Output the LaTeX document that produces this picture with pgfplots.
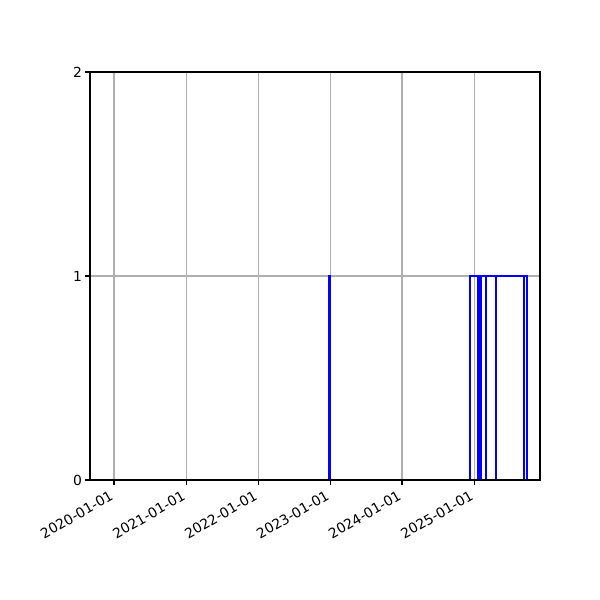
\documentclass[border=0pt]{standalone}
\usepackage{fontspec}
\setmainfont{DejaVu Sans}
\usepackage{pgfplots}
\pgfplotsset{compat=1.18}
\definecolor{mplgrid}{HTML}{B0B0B0}
\definecolor{mplblue}{HTML}{0000FF}

\begin{document}
\begin{tikzpicture}
% days counted from 2020-01-01
\begin{axis}[
    at={(0,0)}, anchor=south west,
    scale only axis,
    width=324pt, height=293.76pt,
    xmin=-122, xmax=2161,
    ymin=0, ymax=2,
    xtick={0,366,731,1096,1461,1827},
    xticklabels={2020-01-01,2021-01-01,2022-01-01,2023-01-01,2024-01-01,2025-01-01},
    ytick={0,1,2},
    xticklabel style={font=\fontsize{10}{12}\selectfont, inner sep=0pt, xshift=-3.6pt, yshift=-3.5pt, rotate=30, anchor=north east},
    yticklabel style={font=\fontsize{10}{12}\selectfont, inner sep=0pt, xshift=-2pt},
    /pgf/number format/assume math mode=true,
    tick align=outside,
    tick pos=left,
    major tick length=3.5pt,
    every tick/.style={black, line width=0.8pt},
    axis line style={line width=0.8pt},
    grid=major,
    major grid style={mplgrid, line width=0.8pt},
    clip=true,
]
\addplot[const plot, color=mplblue, line width=1.5pt, mark=none] coordinates {
    (-122,0) (1092,1) (1094,0) (1808,1) (1845,0) (1847,1) (1857,0) (1859,1)
    (1887,0) (1889,1) (1938,0) (1940,1) (2080,0) (2082,1) (2096,0) (2161,0)
};
\draw[black, line width=0.8pt] (rel axis cs:0,0) -- (rel axis cs:1,0);
\end{axis}
\path[use as bounding box] (-64.8pt,-86.4pt) rectangle (367.2pt,345.6pt);
\end{tikzpicture}
\end{document}
